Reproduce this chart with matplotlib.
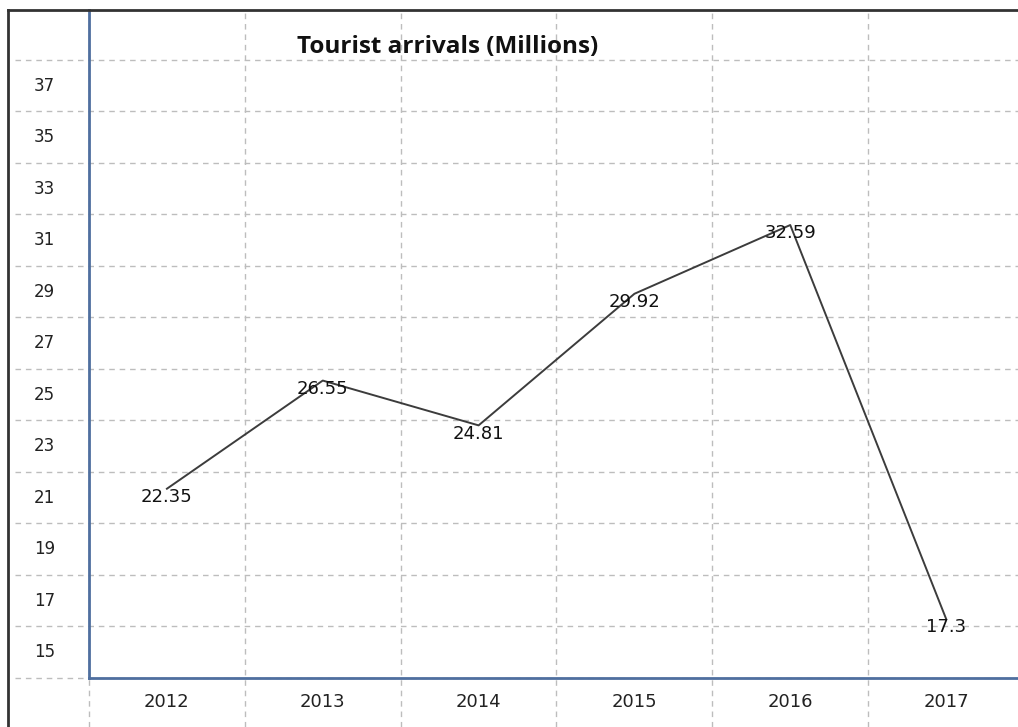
"""Tourist arrivals line chart, grid-table style."""

import matplotlib
matplotlib.use("Agg")
import matplotlib.pyplot as plt
import numpy as np

years = ["2012", "2013", "2014", "2015", "2016", "2017"]
arrivals = [22.35, 26.55, 24.81, 29.92, 32.59, 17.3]
y_ticks = [15, 17, 19, 21, 23, 25, 27, 29, 31, 33, 35, 37]
y_grid = y_ticks + [39]

GRID = "#bdbdbd"
SPINE = "#4f6f9f"
TEXT = "#222222"

plt.rcParams["font.family"] = ["DejaVu Sans"]

fig = plt.figure(figsize=(10.18, 7.27), dpi=100)
# plot area runs from x=89px to beyond the right edge, y=10px to 678px
ax = fig.add_axes([89 / 1018, 49 / 727, 935 / 1018, 668 / 727])
ax.set_xlim(-0.5, len(years) - 0.5)
ax.set_ylim(15, 40.94)
ax.set_axis_off()

x = np.arange(len(years))
x_left = -0.975   # grid lines reach into the label column
y_low = 13.1      # and below the category row

dash = dict(color=GRID, lw=1.0, linestyle=(0, (4, 3.5)), clip_on=False, zorder=1)
for v in y_grid:
    ax.plot([x_left, len(years) - 0.5], [v, v], **dash)
for edge in np.arange(-0.5, len(years), 1.0):
    ax.plot([edge, edge], [y_low, 40.94], **dash)

# blue axis lines
ax.plot([-0.5, -0.5], [15, 40.94], color=SPINE, lw=2, clip_on=False, zorder=3)
ax.plot([-0.5, len(years) - 0.5], [15, 15], color=SPINE, lw=2, clip_on=False, zorder=3)

# y labels sit in the band just above their grid line
for v in y_ticks:
    ax.text(-0.786, v + 1, str(v), ha="center", va="center", fontsize=12,
            color=TEXT, clip_on=False)
for xi, year in zip(x, years):
    ax.text(xi, 14.07, year, ha="center", va="center", fontsize=13,
            color=TEXT, clip_on=False)

ax.plot(x, arrivals, color="#3c3c3c", lw=1.4, zorder=4)
for xi, val in zip(x, arrivals):
    ax.annotate(f"{val:g}", (xi, val), xytext=(0, -6), textcoords="offset points",
                ha="center", va="center", fontsize=13, color="#111111", zorder=5)

ax.text(1.804, 39.5, "Tourist arrivals (Millions)", ha="center", va="center",
        fontsize=17.5, fontweight="bold", family="Open Sans", color="#111111")

# outer frame of the picture (left and top)
fig.add_artist(plt.Line2D([8 / 1018, 8 / 1018], [0, 717 / 727], color="#333333", lw=2))
fig.add_artist(plt.Line2D([8 / 1018, 1], [717 / 727, 717 / 727], color="#333333", lw=2))

fig.savefig("out.png", dpi=100)
